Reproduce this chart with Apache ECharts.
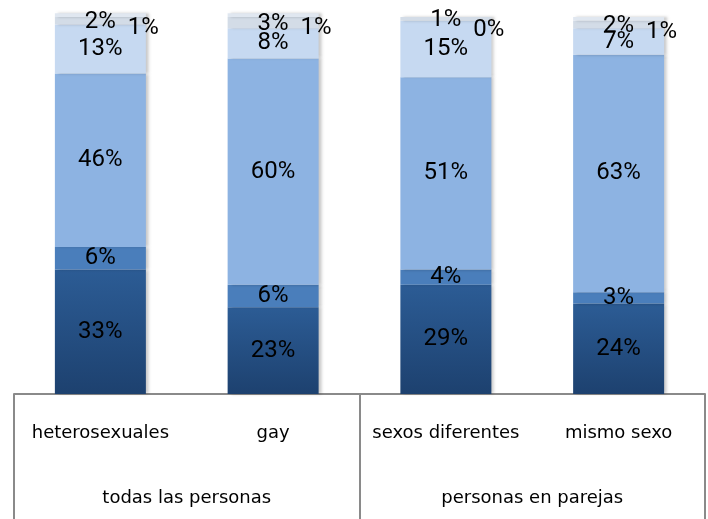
<!DOCTYPE html>
<html>
<head>
<meta charset="utf-8">
<script src="https://cdn.jsdelivr.net/npm/echarts@6/dist/echarts.min.js"></script>
<style>
  html, body { margin: 0; padding: 0; background: #fff; }
  #chart { width: 708px; height: 519px; }
</style>
</head>
<body>
<div id="chart"></div>
<script>
// categories and groups on the bottom axis
const categories = ["heterosexuales", "gay", "sexos diferentes", "mismo sexo"];
const groups = ["todas las personas", "personas en parejas"];

// stacked segments, bottom to top (percent)
const seg1 = [33, 23, 29, 24];
const seg2 = [6, 6, 4, 3];
const seg3 = [46, 60, 51, 63];
const seg4 = [13, 8, 15, 7];
const seg5 = [2, 3, 1, 2];
const seg6 = [1, 1, 0, 1];

const labelFont = "Roboto";
const axisFont = "DejaVu Sans";

function grad(top, bottom) {
  return new echarts.graphic.LinearGradient(0, 0, 0, 1, [
    { offset: 0, color: top },
    { offset: 1, color: bottom },
  ]);
}

function makeSeries(name, data, color, labelOffset) {
  return {
    type: "bar",
    name: name,
    stack: "all",
    data: data,
    barWidth: 91,
    clip: false,
    itemStyle: {
      color: color,
      shadowColor: "rgba(0,0,0,0.22)",
      shadowBlur: 3,
      shadowOffsetX: 3,
    },
    label: {
      show: true,
      position: "inside",
      offset: labelOffset || [0, 0],
      formatter: "{c}%",
      color: "#000",
      fontSize: 24,
      fontFamily: labelFont,
    },
  };
}

const chart = echarts.init(document.getElementById("chart"));
const option = {
  animation: false,
  grid: { left: 14, right: 3, top: 17, bottom: 125 },
  xAxis: [
    {
      type: "category",
      position: "bottom",
      data: categories,
      axisLine: { show: false },
      axisTick: { show: false },
      axisLabel: {
        interval: 0,
        margin: 30,
        fontSize: 18,
        color: "#000",
        fontFamily: axisFont,
      },
    },
    {
      type: "category",
      position: "bottom",
      data: groups,
      axisLine: { show: true, lineStyle: { color: "#8a8a8a", width: 2 } },
      axisTick: { show: true, length: 130, lineStyle: { color: "#8a8a8a", width: 2 } },
      axisLabel: {
        interval: 0,
        margin: 95,
        fontSize: 18,
        color: "#000",
        fontFamily: axisFont,
      },
    },
  ],
  yAxis: { type: "value", min: 0, max: 100, show: false },
  series: [
    makeSeries("s1", seg1, grad("#2c5c95", "#1d416f")),
    makeSeries("s2", seg2, "#4a7ebb"),
    makeSeries("s3", seg3, "#8db3e2"),
    makeSeries("s4", seg4, "#c6d9f1"),
    makeSeries("s5", seg5, "#d3dce7", [0, 1]),
    makeSeries("s6", seg6, "#e0e7f0", [43, 13]),
  ],
};
chart.setOption(option);
</script>
</body>
</html>
